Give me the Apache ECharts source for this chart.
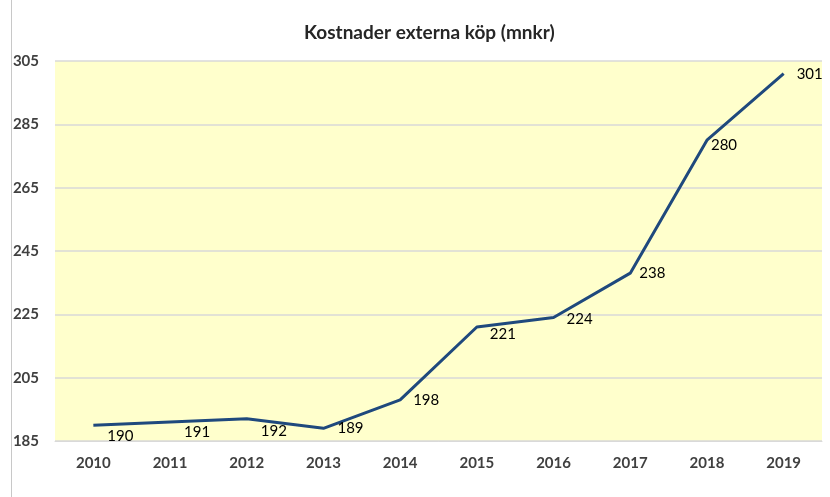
<!DOCTYPE html>
<html>
<head>
<meta charset="utf-8">
<script src="https://cdn.jsdelivr.net/npm/echarts@6/dist/echarts.min.js"></script>
<style>
  html, body { margin: 0; padding: 0; background: #fff; }
  #main { width: 830px; height: 497px; }
</style>
</head>
<body>
<div id="main"></div>
<script>
const years = ["2010", "2011", "2012", "2013", "2014", "2015", "2016", "2017", "2018", "2019"];
const costs = [190, 191, 192, 189, 198, 221, 224, 238, 280, 301];
const yTicks = [185, 205, 225, 245, 265, 285, 305];

// label nudges, [dx, dy] px, as placed in the original
const labelShift = [[2, 11], [2, 10], [2, 12], [2, 0], [1, 0], [1, 7], [1, 2], [-3, 0], [-8, 5], [1, 0]];

const chart = echarts.init(document.getElementById("main"));

const option = {
  backgroundColor: "#ffffff",
  textStyle: { fontFamily: "Lato" },
  title: {
    text: "Kostnader externa köp (mnkr)",
    left: 299,
    top: 18,
    textStyle: { fontSize: 19, fontWeight: "bold", color: "#262626", fontFamily: "Lato" }
  },
  graphic: [
    {
      type: "line",
      shape: { x1: 11.5, y1: 0, x2: 11.5, y2: 497 },
      style: { stroke: "#c8c8c8", lineWidth: 1 }
    }
  ],
  grid: {
    left: 55,
    right: 8,
    top: 61,
    bottom: 56,
    show: true,
    backgroundColor: "#ffffcc",
    borderWidth: 0
  },
  xAxis: {
    type: "category",
    data: years,
    boundaryGap: true,
    axisLine: { show: true, lineStyle: { color: "#d9d9d9", width: 1 } },
    axisTick: { show: false },
    axisLabel: { fontSize: 15, fontWeight: "bold", color: "#404040", margin: 15 }
  },
  yAxis: {
    type: "value",
    min: yTicks[0],
    max: yTicks[yTicks.length - 1],
    interval: yTicks[1] - yTicks[0],
    axisLine: { show: false },
    axisTick: { show: false },
    splitLine: { lineStyle: { color: "#d9d9d9", width: 1.5 } },
    axisLabel: { fontSize: 15, fontWeight: "bold", color: "#404040", margin: 16, align: "right" }
  },
  series: [
    {
      type: "line",
      data: costs.map((v, i) => ({
        value: v,
        label: { offset: labelShift[i] }
      })),
      symbol: "circle",
      symbolSize: 0,
      showSymbol: true,
      lineStyle: { color: "#1f497d", width: 3 },
      itemStyle: { color: "#1f497d" },
      label: {
        show: true,
        position: "right",
        distance: 12,
        fontSize: 15,
        color: "#000000",
        fontFamily: "Lato"
      },
      animation: false
    }
  ]
};

chart.setOption(option);
</script>
</body>
</html>
